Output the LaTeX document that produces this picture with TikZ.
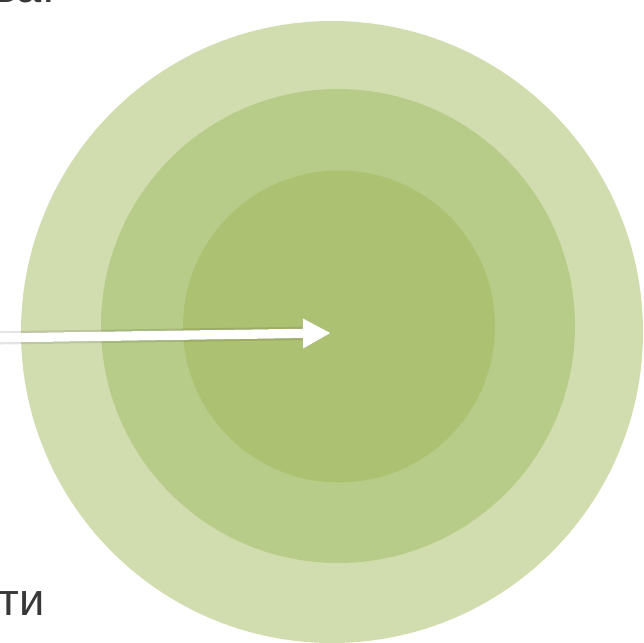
\documentclass[tikz,border=0pt]{standalone}
\usepackage{fontspec}
\setmainfont{Liberation Sans}
\usetikzlibrary{arrows.meta}
\definecolor{ringA}{RGB}{210,221,175}
\definecolor{ringB}{RGB}{184,204,137}
\definecolor{ringC}{RGB}{173,193,114}
\definecolor{txt}{RGB}{56,56,56}
\tikzset{
  ring/.style={circle, inner sep=0pt, draw=none},
  lbl/.style={font=\fontsize{34}{40}\selectfont, text=txt, inner sep=0pt},
  arrowline/.style={line width=7pt, draw=white, -{Triangle[length=21pt,width=21pt]}},
  shadowline/.style={line width=7pt, draw=black, -{Triangle[length=21pt,width=21pt]}}
}
\begin{document}
\begin{tikzpicture}[x=0.75pt,y=-0.75pt]
\useasboundingbox (0,0) rectangle (644,643);
\fill[white] (0,0) rectangle (644,643);
\node[ring, fill=ringA, minimum size=466.5pt] (outer) at (332,332) {};
\node[ring, fill=ringB, minimum size=355.5pt] (middle) at (338,326) {};
\node[ring, fill=ringC, minimum size=234pt] (inner) at (339,326.5) {};
\coordinate (start) at (-10,338);
\coordinate (tip) at (331,333);
\begin{scope}[shift={(3,6)}]
  \draw[shadowline, opacity=0.10, line width=10pt] (start) -- (tip);
  \draw[shadowline, opacity=0.22] (start) -- (tip);
\end{scope}
\draw[arrowline] (start) -- (tip);
\node[lbl, anchor=base east] (top) at (55,2) {ва:};
\node[lbl, anchor=base west] (bottom) at (-2,615) {ти};
\end{tikzpicture}
\end{document}
